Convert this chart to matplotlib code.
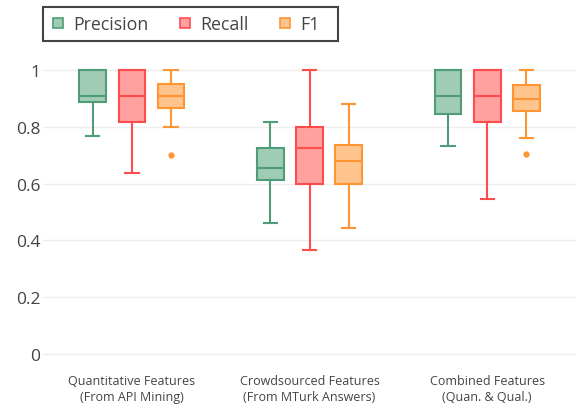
import matplotlib
matplotlib.use("Agg")
import matplotlib.pyplot as plt
from matplotlib.lines import Line2D
from matplotlib.patches import Rectangle

plt.rcParams['font.family'] = ['Open Sans', 'DejaVu Sans']

groups = ['Quantitative Features\n(From API Mining)',
          'Crowdsourced Features\n(From MTurk Answers)',
          'Combined Features\n(Quan. & Qual.)']
series = ['Precision', 'Recall', 'F1']

# per series, per group: lower whisker, q1, median, q3, upper whisker
precision_stats = [(0.769, 0.886, 0.908, 1.0, 1.0),
                   (0.462, 0.611, 0.655, 0.726, 0.818),
                   (0.733, 0.844, 0.908, 1.0, 1.0)]
recall_stats = [(0.636, 0.818, 0.908, 1.0, 1.0),
                (0.365, 0.600, 0.727, 0.798, 1.0),
                (0.546, 0.818, 0.908, 1.0, 1.0)]
f1_stats = [(0.799, 0.867, 0.908, 0.952, 1.0),
            (0.445, 0.600, 0.680, 0.736, 0.879),
            (0.762, 0.856, 0.898, 0.947, 1.0)]
f1_outliers = [[0.70], [], [0.705]]

all_stats = [precision_stats, recall_stats, f1_stats]
all_outliers = [[[], [], []], [[], [], []], f1_outliers]

edge_colors = ['#4f9d76', '#ff4d4d', '#ff9433']
fill_colors = ['#a0cbb4', '#ffa1a1', '#ffc48c']
offsets = [-0.22, 0.0, 0.22]

fig = plt.figure(figsize=(5.79, 4.10), dpi=100)
ax = fig.add_axes([0.0743, 0.1063, 0.9206, 0.7483])

for s in range(3):
    stats = []
    for g in range(3):
        lo, q1, med, q3, hi = all_stats[s][g]
        stats.append(dict(whislo=lo, q1=q1, med=med, q3=q3, whishi=hi,
                          fliers=all_outliers[s][g]))
    ax.bxp(stats, positions=[g + offsets[s] for g in range(3)], widths=0.15,
           patch_artist=True, showfliers=True, manage_ticks=False,
           boxprops=dict(facecolor=fill_colors[s], edgecolor=edge_colors[s], linewidth=1.5),
           medianprops=dict(color=edge_colors[s], linewidth=1.5),
           whiskerprops=dict(color=edge_colors[s], linewidth=1.5),
           capprops=dict(color=edge_colors[s], linewidth=1.5),
           capwidths=0.075,
           flierprops=dict(marker='o', markersize=3.5, markerfacecolor=edge_colors[s],
                           markeredgecolor=edge_colors[s]))

ax.set_xlim(-0.5, 2.5)
ax.set_ylim(-0.04, 1.04)
ax.set_yticks([0, 0.2, 0.4, 0.6, 0.8, 1])
ax.set_yticklabels(['0', '0.2', '0.4', '0.6', '0.8', '1'])
ax.set_xticks(range(3))
ax.set_xticklabels(groups, fontsize=9, color='#444444', linespacing=1.3)
ax.tick_params(axis='y', length=0, pad=2, labelsize=12.5, labelcolor='#444444')
ax.tick_params(axis='x', length=0, pad=6)
ax.grid(axis='y', color='#eeeeee', linewidth=1)
ax.set_axisbelow(True)
for sp in ax.spines.values():
    sp.set_visible(False)

# legend (plotly style box on top)
handles = [Line2D([], [], linestyle='none', marker='s', markersize=6.5,
                  markerfacecolor=fill_colors[i], markeredgecolor=edge_colors[i],
                  markeredgewidth=1.2) for i in range(3)]
fig.legend(handles, series, loc='center left', bbox_to_anchor=(53 / 579, 1 - 25 / 410),
           ncol=3, frameon=False, fontsize=12.8, borderpad=0, borderaxespad=0,
           handlelength=0.55, handletextpad=0.6, columnspacing=1.75,
           labelcolor='#444444')
fig.patches.append(Rectangle((43 / 579, 1 - 42 / 410), 295 / 579, 34 / 410,
                             transform=fig.transFigure, fill=False,
                             edgecolor='#444444', linewidth=1.5))

fig.savefig('out.png', dpi=100)
